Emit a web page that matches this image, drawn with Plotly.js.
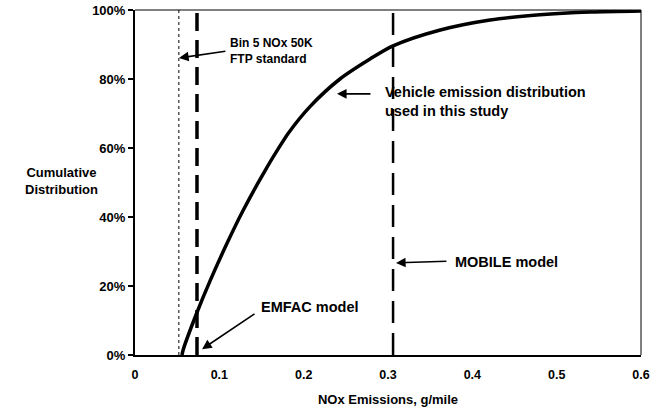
<!DOCTYPE html>
<html>
<head>
<meta charset="utf-8">
<script src="https://cdn.plot.ly/plotly-3.0.1.min.js"></script>
<style>html,body{margin:0;padding:0;background:#fff;}#chart{width:653px;height:407px;}</style>
</head>
<body>
<div id="chart"></div>
<script>
// Cumulative distribution of vehicle NOx emissions (g/mile vs %)
const curveX = [0.0557, 0.057, 0.0731, 0.089, 0.109, 0.128, 0.157, 0.172, 0.1818, 0.2075, 0.243, 0.2787, 0.306, 0.362, 0.421, 0.48, 0.54, 0.6];
const curveY = [0, 1.4, 12.1, 21.5, 32.3, 41.8, 54.6, 60.6, 64.3, 72.0, 80.0, 85.8, 89.6, 94.2, 97.1, 98.6, 99.4, 99.7];

// Reference lines (g/mile)
const refNames = ["Bin 5 NOx 50K FTP standard", "EMFAC model", "MOBILE model"];
const refX = [0.052, 0.0735, 0.306];
const refWidth = [1, 3.5, 2.5];

const xTicks = [0, 0.1, 0.2, 0.3, 0.4, 0.5, 0.6];
const xTickText = ["0", "0.1", "0.2", "0.3", "0.4", "0.5", "0.6"];
const yTicks = [0, 20, 40, 60, 80, 100];

const FONT = "Liberation Sans, Arial, sans-serif";

const traces = [];
refX.forEach((xv, i) => {
  traces.push({
    x: [xv, xv], y: [0, 100], mode: "lines", name: refNames[i],
    line: {color: "#000", width: refWidth[i], dash: i === 0 ? "dot" : (i === 1 ? "18px,9px" : "22px,10px")},
    hoverinfo: "skip"
  });
});
traces.push({
  x: curveX, y: curveY, mode: "lines", name: "Vehicle emission distribution",
  line: {color: "#000", width: 3.5, shape: "spline", smoothing: 0.8}
});

function arrow(hx, hy, tx, ty) {
  return {x: hx, y: hy, ax: tx, ay: ty, xref: "x", yref: "y", axref: "x", ayref: "y",
    text: "", showarrow: true, arrowhead: 2, arrowsize: 1.2, arrowwidth: 1.6, arrowcolor: "#000"};
}
function label(x, y, t, size) {
  return {x: x, y: y, xref: "x", yref: "y", text: "<b>" + t + "</b>", showarrow: false, xanchor: "left", yanchor: "middle",
    align: "left", font: {family: FONT, size: size, color: "#000"}};
}

const annotations = [
  arrow(0.0522, 86.1, 0.109, 88.1),
  label(0.110, 88.1, "Bin 5 NOx 50K<br>FTP standard", 12),
  arrow(0.2395, 75.7, 0.281, 75.7),
  label(0.294, 73.4, "Vehicle emission distribution<br>used in this study", 14.5),
  arrow(0.3095, 26.7, 0.371, 27.2),
  label(0.377, 27.0, "MOBILE model", 14.5),
  arrow(0.0795, 1.7, 0.1435, 12.2),
  label(0.147, 13.9, "EMFAC model", 14.5),
  {
    x: -0.145, y: 0.505, xref: "paper", yref: "paper", xanchor: "center", yanchor: "middle",
    text: "<b>Cumulative<br>Distribution</b>", showarrow: false, align: "center",
    font: {family: FONT, size: 13, color: "#000"}
  }
];

const layout = {
  width: 653, height: 407,
  margin: {l: 135, r: 12, t: 10, b: 52},
  paper_bgcolor: "#fff", plot_bgcolor: "#fff",
  showlegend: false,
  font: {family: FONT, size: 12, color: "#000"},
  xaxis: {
    range: [0, 0.6], tickvals: xTicks, ticktext: xTickText.map(t => "<b>" + t + "</b>"),
    showgrid: false, zeroline: false, showline: true, linecolor: "#000", linewidth: 2,
    ticks: "", tickfont: {family: FONT, size: 12.5}, ticklabelstandoff: 7,
    title: {text: "<b>NOx Emissions, g/mile</b>", font: {family: FONT, size: 13}, standoff: 14}
  },
  yaxis: {
    range: [0, 100], tickvals: yTicks, ticktext: yTicks.map(v => "<b>" + v + "%</b>"),
    showgrid: false, zeroline: false, showline: true, linecolor: "#000", linewidth: 2,
    ticks: "outside", ticklen: 5, tickwidth: 1.5, tickcolor: "#000", tickfont: {family: FONT, size: 13}
  },
  shapes: [
    {type: "line", xref: "paper", yref: "paper", x0: 0, x1: 1, y0: 1, y1: 1, line: {color: "#000", width: 1}},
    {type: "line", xref: "paper", yref: "paper", x0: 1, x1: 1, y0: 0, y1: 1, line: {color: "#000", width: 1}}
  ],
  annotations: annotations
};

Plotly.newPlot("chart", traces, layout, {displayModeBar: false, staticPlot: true});
</script>
</body>
</html>
